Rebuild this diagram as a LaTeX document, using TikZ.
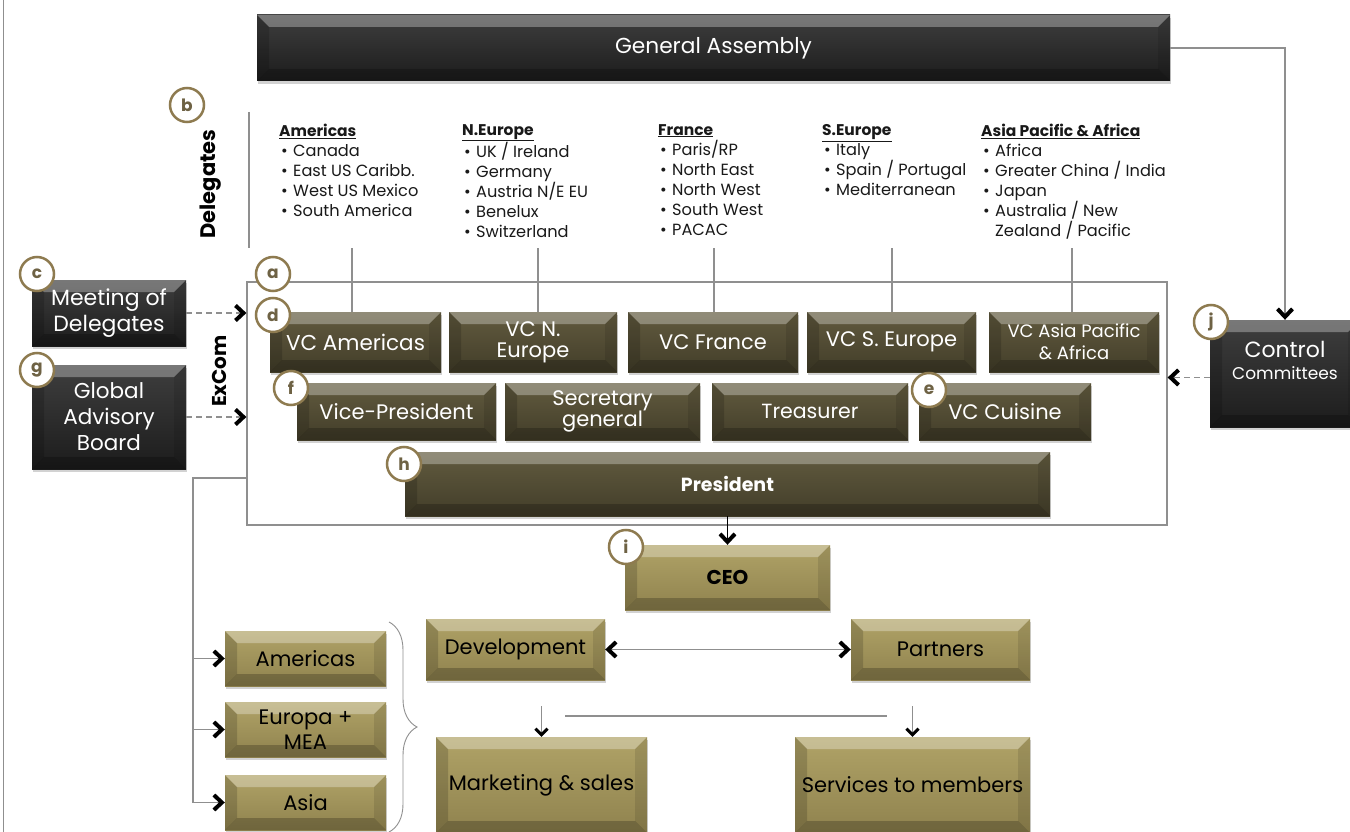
\documentclass[tikz,border=0pt]{standalone}
\usepackage{fontspec}
\setmainfont{Poppins}
\usetikzlibrary{arrows.meta,calc,shadows,decorations.pathreplacing}

\definecolor{ringc}{HTML}{8E7B50}
\definecolor{letc}{HTML}{6E6244}
\definecolor{linec}{HTML}{8F8F8F}
\definecolor{darkA}{HTML}{3E3E3E}
\definecolor{darkB}{HTML}{1C1C1C}
\definecolor{brnA}{HTML}{625B3F}
\definecolor{brnB}{HTML}{423D29}
\definecolor{gldA}{HTML}{B0A367}
\definecolor{gldB}{HTML}{8F824E}

\newcommand\fsz[1]{\fontsize{#1}{#1}\selectfont}
\newcommand\itm[1]{\hspace*{2pt}\makebox[12pt][l]{•}#1}
\newcommand\hdr[1]{\underline{\textbf{\fontsize{15.5}{20}\selectfont #1}}}

\begin{document}
\begin{tikzpicture}[x=1pt,y=-1pt,
  bevel/.style={path picture={
      \coordinate (bNW) at (path picture bounding box.north west);
      \coordinate (bNE) at (path picture bounding box.north east);
      \coordinate (bSW) at (path picture bounding box.south west);
      \coordinate (bSE) at (path picture bounding box.south east);
      \coordinate (iNW) at ($(bNW)+(#1,#1)$);
      \coordinate (iNE) at ($(bNE)+(-#1,#1)$);
      \coordinate (iSW) at ($(bSW)+(#1,-#1)$);
      \coordinate (iSE) at ($(bSE)+(-#1,-#1)$);
      \fill[white,opacity=0.30] (bNW)--(bNE)--(iNE)--(iNW)--cycle;
      \fill[black,opacity=0.16] (bNW)--(iNW)--(iSW)--(bSW)--cycle;
      \fill[black,opacity=0.10] (bNE)--(iNE)--(iSE)--(bSE)--cycle;
      \fill[black,opacity=0.22] (bSW)--(iSW)--(iSE)--(bSE)--cycle;
    }},
  box/.style={rectangle, inner sep=2pt, align=center, bevel=12,
    drop shadow={shadow xshift=1pt, shadow yshift=-3pt, opacity=0.35}},
  darkbox/.style={box, top color=darkA, bottom color=darkB, text=white},
  brnbox/.style={box, top color=brnA, bottom color=brnB, text=white},
  gldbox/.style={box, top color=gldA, bottom color=gldB, text=black},
  lbl/.style={circle, draw=ringc, line width=2.5pt, fill=white, minimum size=34pt,
    inner sep=0pt, text=letc, font=\bfseries\fsz{17}},
  dlist/.style={anchor=north west, inner sep=0pt, align=left, text=black!90,
    font=\fontsize{16.2}{20}\selectfont},
  tip/.tip={Straight Barb[length=8pt, width=15pt, line width=4pt 0 1, color=black]},
  smalltip/.tip={Straight Barb[length=6pt, width=12pt, line width=3pt 0 1, color=black]},
  conn/.style={draw=linec, line width=1.2pt},
  dashconn/.style={conn, dash pattern=on 6pt off 4pt, -tip},
]
\useasboundingbox[fill=white] (0,0) rectangle (1350,832);

% page frame line on the left
\coordinate (frT) at (3.5,0);
\coordinate (frB) at (3.5,832);
\draw[conn] (frT) -- (frB);

% ---------- top level ----------
\node[darkbox, minimum width=913, minimum height=66, font=\fsz{21.7}] (GA) at (713.5,48) {\raisebox{-2pt}{General Assembly}};

% ---------- delegates ----------
\node[rotate=90, font=\bfseries\fsz{21}] (DL) at (211,184) {Delegates};
\coordinate (sepT) at (249,112);
\coordinate (sepB) at (249,248);
\draw[linec, line width=2pt] (sepT) -- (sepB);

\node[dlist] (LAm) at (279,124) {\hdr{Americas}\\ \itm{Canada}\\ \itm{East US Caribb.}\\ \itm{West US Mexico}\\ \itm{South America}};
\node[dlist] (LNE) at (462,124) {\hdr{N.Europe}\\ \itm{UK / Ireland}\\ \itm{Germany}\\ \itm{Austria N/E EU}\\ \itm{Benelux}\\ \itm{Switzerland}};
\node[dlist] (LFr) at (658,124) {\hdr{France}\\ \itm{Paris/RP}\\ \itm{North East}\\ \itm{North West}\\ \itm{South West}\\ \itm{PACAC}};
\node[dlist] (LSE) at (822,124) {\hdr{S.Europe}\\ \itm{Italy}\\ \itm{Spain / Portugal}\\ \itm{Mediterranean}};
\node[dlist] (LAP) at (981,124) {\hdr{Asia Pacific \& Africa}\\ \itm{Africa}\\ \itm{Greater China / India}\\ \itm{Japan}\\ \itm{Australia / New}\\ \hspace*{14pt}Zealand / Pacific};

% ---------- ExCom ----------
\node[draw=linec, line width=1.2pt, minimum width=920, minimum height=243, inner sep=0pt] (EX) at (707,403.5) {};
\node[rotate=90, font=\bfseries\fsz{20}] (XL) at (219,371) {ExCom};

\node[brnbox, minimum width=171, minimum height=60, font=\fsz{21.5}] (VCAm) at (355.5,342) {VC Americas};
\node[brnbox, minimum width=168, minimum height=60, font=\fontsize{21}{21}\selectfont] (VCNE) at (533,342) {VC N.\\Europe};
\node[brnbox, minimum width=170, minimum height=60, font=\fsz{21}] (VCFr) at (713,342) {VC France};
\node[brnbox, minimum width=169, minimum height=60, font=\fsz{21}] (VCSE) at (891.5,342) {VC S. Europe};
\node[brnbox, minimum width=170, minimum height=60, font=\fontsize{18}{22}\selectfont] (VCAP) at (1074,342) {VC Asia Pacific\\\& Africa};

\node[brnbox, minimum width=199, minimum height=57, font=\fsz{21}] (VP) at (396.5,411.5) {Vice-President};
\node[brnbox, minimum width=195, minimum height=57, font=\fontsize{21}{21}\selectfont] (SG) at (602.5,411.5) {Secretary\\general};
\node[brnbox, minimum width=196, minimum height=57, font=\fsz{20.5}] (TR) at (810,411.5) {Treasurer};
\node[brnbox, minimum width=172, minimum height=57, font=\fsz{21}] (VCC) at (1005,411.5) {VC Cuisine};

\node[brnbox, minimum width=645, minimum height=64, font=\bfseries\fsz{19}] (PR) at (727.5,484) {President};

% delegates feed their vice-chairs
\foreach \n/\x in {VCAm/352, VCNE/538, VCFr/714, VCSE/892, VCAP/1072} {
  \coordinate (d\n) at (\x,248);
  \draw[conn] (d\n) -- (d\n |- \n.north);
}

% ---------- side bodies ----------
\node[darkbox, minimum width=154, minimum height=66, font=\fontsize{22}{26}\selectfont] (MD) at (109,313) {Meeting of\\Delegates};
\node[darkbox, minimum width=154, minimum height=104, font=\fontsize{21.5}{26}\selectfont] (GB) at (109,417) {Global\\Advisory\\Board};
\node[darkbox, minimum width=150, minimum height=107] (CC) at (1285,373.5)
  {\raisebox{9pt}[0pt][0pt]{\begin{tabular}{@{}c@{}}\fsz{22}Control\\[6pt]\fsz{17}Committees\end{tabular}}};

\draw[dashconn] (MD.east) -- (MD.east -| EX.west);
\draw[dashconn] (GB.east) -- (GB.east -| EX.west);
\draw[dashconn] ([yshift=-4pt]CC.west) -- ([yshift=-4pt]CC.west -| EX.east);
\draw[conn, -tip] (GA.east) -| (CC.north);

% ---------- management ----------
\node[gldbox, minimum width=205, minimum height=65, font=\bfseries\fsz{20}] (CEO) at (727.5,577.5) {CEO};
\draw[black, line width=1.8pt, -tip] (PR.south) -- (CEO.north);

\node[gldbox, minimum width=161, minimum height=55, font=\fsz{21}] (AME) at (305.5,658.5) {Americas};
\node[gldbox, minimum width=161, minimum height=55, font=\fontsize{21}{25}\selectfont] (EUR) at (305.5,729.5) {Europa +\\MEA};
\node[gldbox, minimum width=161, minimum height=55, font=\fsz{21}] (ASI) at (305.5,802.5) {Asia};

\coordinate (exl) at (247,478);
\coordinate (bus) at (193,478);
\draw[conn, -tip] (exl) -- (bus) |- (ASI.west);
\draw[conn, -tip] (bus |- AME.west) -- (AME.west);
\draw[conn, -tip] (bus |- EUR.west) -- (EUR.west);

\coordinate (brT) at (389,622);
\coordinate (brB) at (389,832);
\draw[linec, line width=0.9pt, decorate, decoration={brace, amplitude=28pt, aspect=0.5}] (brT) -- (brB);

\node[gldbox, minimum width=179, minimum height=61, font=\fsz{21}] (DEV) at (515.5,649.5) {Development};
\node[gldbox, minimum width=179, minimum height=61, font=\fsz{21}] (PAR) at (940.5,649.5) {Partners};
\draw[conn, line width=1.5pt, tip-tip] (DEV.east) -- (PAR.west);

\node[gldbox, minimum width=211, minimum height=96, font=\fsz{21}] (MS) at (541.5,785) {Marketing \& sales};
\node[gldbox, minimum width=235, minimum height=96, font=\fsz{21}] (SV) at (912.5,785) {Services to members};

\coordinate (hlL) at (565,716);
\coordinate (hlR) at (887,716);
\draw[conn, line width=1.5pt] (hlL) -- (hlR);
\coordinate (msT) at (541.5,706);
\coordinate (svT) at (912.5,706);
\draw[conn, -smalltip] (msT) -- (MS.north);
\draw[conn, -smalltip] (svT) -- (SV.north);

% ---------- reference letters ----------
\node[lbl] (Lb) at (187,105) {b};
\node[lbl] (Lc) at (37,274) {c};
\node[lbl] (La) at (273,274) {a};
\node[lbl] (Ld) at (273,315) {d};
\node[lbl] (Lg) at (37,370) {g};
\node[lbl] (Lf) at (291,388) {f};
\node[lbl] (Le) at (929,390) {e};
\node[lbl] (Lh) at (404,464) {h};
\node[lbl] (Li) at (626,547) {i};
\node[lbl] (Lj) at (1211,322) {j};
\end{tikzpicture}
\end{document}
